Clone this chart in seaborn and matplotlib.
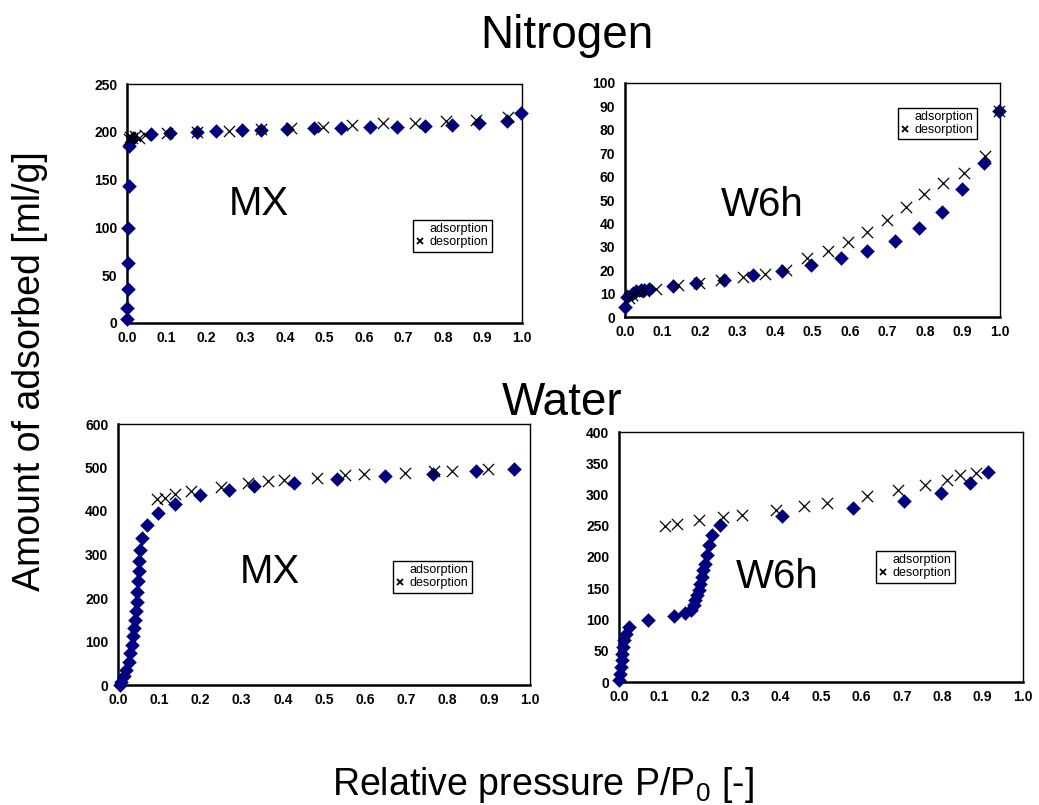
import seaborn as sns
import matplotlib.pyplot as plt
from matplotlib.lines import Line2D
from matplotlib.ticker import MultipleLocator, FormatStrFormatter

# Nitrogen isotherm, MX
n2_mx_ads_x = [0.001, 0.001, 0.002, 0.002, 0.003, 0.004, 0.005, 0.015, 0.062, 0.11, 0.178, 0.225,
               0.29, 0.34, 0.405, 0.474, 0.542, 0.614, 0.684, 0.754, 0.824, 0.892, 0.962, 0.998]
n2_mx_ads_y = [4, 16, 36, 63, 99, 143, 185, 194, 198, 199, 200, 201,
               202, 202, 203, 203.5, 204, 205, 205.5, 206, 207.5, 209, 211, 220]
n2_mx_des_x = [0.004, 0.008, 0.013, 0.02, 0.03, 0.045, 0.10, 0.178, 0.257, 0.34, 0.415,
               0.495, 0.57, 0.648, 0.729, 0.807, 0.883, 0.964]
n2_mx_des_y = [192, 195, 193, 196, 194, 197, 199, 200, 201, 202.5, 203.5,
               205, 207.5, 209, 209.7, 211, 212, 215]

# Nitrogen isotherm, W6h
n2_w6h_ads_x = [0.0, 0.006, 0.018, 0.03, 0.043, 0.051, 0.063, 0.128, 0.19, 0.264, 0.34, 0.418,
                0.497, 0.576, 0.645, 0.72, 0.785, 0.845, 0.898, 0.957, 0.998]
n2_w6h_ads_y = [4.3, 8.4, 10, 11, 11.5, 11.7, 12, 13.2, 14.6, 16, 17.9, 19.8,
                22.3, 25.2, 28.2, 32.6, 38, 45, 54.8, 66, 88]
n2_w6h_des_x = [0.01, 0.018, 0.034, 0.051, 0.082, 0.141, 0.198, 0.256, 0.314, 0.372, 0.428,
                0.485, 0.54, 0.594, 0.646, 0.698, 0.748, 0.797, 0.848, 0.903, 0.96, 0.998]
n2_w6h_des_y = [8.1, 9.4, 10.8, 11.2, 12, 13.6, 14.5, 15.7, 17.1, 18.5, 20.2,
                25.3, 28.3, 32.2, 36.3, 41.6, 46.9, 52.7, 57.3, 61.4, 69, 88]

# Water isotherm, MX
h2o_mx_ads_x = [0.004, 0.008, 0.014, 0.020, 0.026, 0.030, 0.033, 0.036, 0.038, 0.041, 0.043,
                0.045, 0.046, 0.048, 0.050, 0.051, 0.054, 0.059, 0.071, 0.097,
                0.138, 0.198, 0.27, 0.33, 0.428, 0.532, 0.647, 0.765, 0.87, 0.96]
h2o_mx_ads_y = [1, 8, 20, 35, 54, 73, 93, 112, 131, 150, 169,
                190, 213, 238, 261, 284, 311, 338, 368, 395,
                416, 436, 448, 457, 465, 473, 480, 485, 491, 497]
h2o_mx_des_x = [0.095, 0.113, 0.138, 0.178, 0.249, 0.316, 0.365, 0.402, 0.484, 0.552, 0.598,
                0.696, 0.767, 0.811, 0.899]
h2o_mx_des_y = [427, 431, 439, 447, 456, 464, 468, 471, 477, 482, 484,
                488, 491, 493, 496]

# Water isotherm, W6h
h2o_w6h_ads_x = [0.0, 0.002, 0.005, 0.007, 0.008, 0.011, 0.013, 0.017, 0.024, 0.071, 0.137,
                 0.164, 0.179, 0.185, 0.189, 0.193, 0.197, 0.201, 0.205, 0.209, 0.213,
                 0.217, 0.223, 0.23, 0.25, 0.404, 0.578, 0.706, 0.797, 0.87, 0.913]
h2o_w6h_ads_y = [3, 13, 24, 35, 45, 56, 67, 77, 88, 99, 106,
                 111, 116, 123, 131, 139, 147, 157, 168, 179, 189,
                 203, 219, 235, 251, 265, 278, 290, 303, 318, 336]
h2o_w6h_des_x = [0.114, 0.144, 0.199, 0.258, 0.305, 0.388, 0.458, 0.514, 0.613, 0.691,
                 0.758, 0.812, 0.843, 0.883]
h2o_w6h_des_y = [250, 253, 259, 264, 268, 276, 282, 287, 298, 308,
                 316, 324, 331, 334]

W, H = 1039, 805


def fx(px):
    return px / W


def fy(py):
    return 1 - py / H


def draw_panel(fig, box, ads_x, ads_y, des_x, des_y, ymax, ystep, name, name_xy, leg_xy):
    left, top, right, bottom = box
    ax = fig.add_axes([fx(left), fy(bottom), fx(right - left), (bottom - top) / H])
    sns.scatterplot(x=ads_x, y=ads_y, marker="D", color="#000080", edgecolor="#000080",
                    s=50, linewidth=0.3, clip_on=False, zorder=3, ax=ax)
    sns.scatterplot(x=des_x, y=des_y, marker="x", color="black", s=65, linewidth=0.9,
                    clip_on=False, zorder=4, ax=ax)
    ax.set_xlim(0, 1)
    ax.set_ylim(0, ymax)
    ax.xaxis.set_major_locator(MultipleLocator(0.1))
    ax.xaxis.set_major_formatter(FormatStrFormatter("%.1f"))
    ax.yaxis.set_major_locator(MultipleLocator(ystep))
    ax.tick_params(axis="x", direction="in", length=4, width=1, labelsize=10, pad=6)
    ax.tick_params(axis="y", direction="out", length=4, width=1, labelsize=10, pad=3)
    for lab in ax.get_xticklabels() + ax.get_yticklabels():
        lab.set_fontweight("bold")
    for side, lw in [("left", 1.8), ("bottom", 1.8), ("top", 1.0), ("right", 1.0)]:
        ax.spines[side].set_visible(True)
        ax.spines[side].set_color("black")
        ax.spines[side].set_linewidth(lw)

    fig.text(fx(name_xy[0]), fy(name_xy[1]), name, fontsize=29, ha="center", va="center")

    handles = [
        Line2D([], [], linestyle="none", marker=None),
        Line2D([], [], linestyle="none", marker="x", color="black", markersize=4,
               markeredgewidth=1.3),
    ]
    ax.legend(handles, ["adsorption", "desorption"], loc="upper left",
              bbox_to_anchor=(fx(leg_xy[0]), fy(leg_xy[1])), bbox_transform=fig.transFigure,
              fontsize=9, frameon=True, fancybox=False, framealpha=1, edgecolor="black",
              handlelength=0.6, handletextpad=0.5, borderpad=0.25, labelspacing=0.1,
              borderaxespad=0)
    ax.get_legend().get_frame().set_linewidth(1.0)
    return ax


sns.set_style("white")
plt.rcParams["font.family"] = ["Liberation Sans", "DejaVu Sans"]
plt.rcParams["text.color"] = "black"
plt.rcParams["xtick.color"] = "black"
plt.rcParams["ytick.color"] = "black"
plt.rcParams["axes.labelcolor"] = "black"

fig = plt.figure(figsize=(10.39, 8.05), dpi=100)

draw_panel(fig, (127, 84, 522, 323), n2_mx_ads_x, n2_mx_ads_y, n2_mx_des_x, n2_mx_des_y,
           250, 50, "MX", (259, 204), (413, 220))
draw_panel(fig, (625, 83, 1000, 317), n2_w6h_ads_x, n2_w6h_ads_y, n2_w6h_des_x, n2_w6h_des_y,
           100, 10, "W6h", (762, 205), (898, 108))
draw_panel(fig, (118, 424, 530, 685), h2o_mx_ads_x, h2o_mx_ads_y, h2o_mx_des_x, h2o_mx_des_y,
           600, 100, "MX", (270, 572), (393, 561))
draw_panel(fig, (619, 432, 1023, 682), h2o_w6h_ads_x, h2o_w6h_ads_y, h2o_w6h_des_x, h2o_w6h_des_y,
           400, 50, "W6h", (777, 577), (876, 551))

fig.text(fx(567), fy(36), "Nitrogen", fontsize=33, ha="center", va="center")
fig.text(fx(562), fy(403), "Water", fontsize=33, ha="center", va="center")
fig.text(fx(30), fy(371), "Amount of adsorbed [ml/g]", fontsize=27, rotation=90,
         ha="center", va="center")
fig.text(fx(543), fy(785), r"Relative pressure P/P$_\mathregular{0}$ [-]", fontsize=27,
         ha="center", va="center")

fig.savefig("out.png", dpi=100)
